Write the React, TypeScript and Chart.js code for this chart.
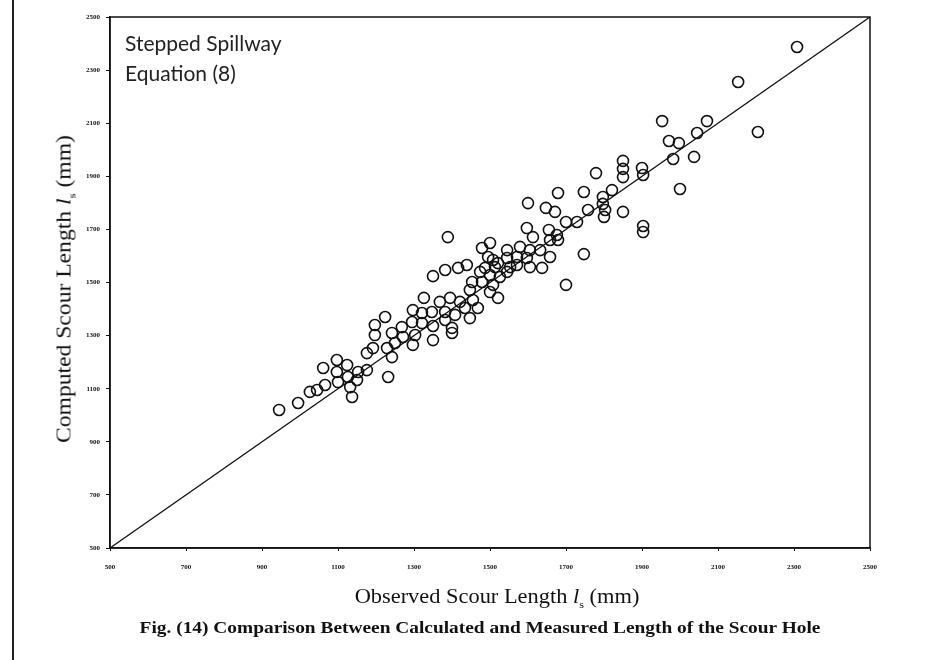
import React, { useEffect, useRef } from "react";
import { Chart, registerables } from "chart.js";

Chart.register(...registerables);

// Observed scour length l_s (mm)
const observed: number[] = [
  945, 995, 1026, 1045, 1061, 1066, 1097, 1097, 1100, 1124, 1126, 1132, 1137, 1153, 1150, 1176, 1176, 1192, 1197, 1197, 1224, 1232, 1229, 1242, 1250,
  1389, 1500, 1479, 1545, 1495, 1521, 1545, 1350, 1382, 1416, 1439, 1474, 1500, 1479, 1453, 1508, 1500, 1521, 1326, 1368, 1395, 1421, 1447, 1455, 1434, 1468, 1297, 1321, 1347, 1382, 1408, 1268, 1295, 1321, 1350, 1382, 1400, 1400, 1447, 1242, 1271, 1303, 1350, 1297,
  1779, 1679, 1747, 1600, 1647, 1671, 1758, 1700, 1729, 1597, 1655, 1676, 1613, 1658, 1679, 1579, 1605, 1632, 1508, 1545, 1571, 1597, 1658, 1747, 1487, 1513, 1553, 1571, 1605, 1637, 1526,
  1797, 1797, 1803, 1800, 1850, 1850, 1850, 1900, 1903, 1821, 1850, 1903, 1903, 1953, 1971, 1997, 2045, 1982, 2037, 2000, 2308, 2153, 2205, 2071, 1700,
];

// Computed scour length l_s (mm)
const computed: number[] = [
  1020, 1046, 1088, 1095, 1178, 1114, 1208, 1163, 1125, 1189, 1144, 1106, 1069, 1163, 1133, 1170, 1234, 1253, 1302, 1340, 1370, 1144, 1253, 1219, 1272,
  1671, 1649, 1630, 1622, 1596, 1573, 1540, 1524, 1547, 1555, 1566, 1540, 1528, 1502, 1502, 1491, 1464, 1442, 1442, 1427, 1442, 1427, 1472, 1434, 1404, 1404, 1396, 1385, 1389, 1389, 1378, 1332, 1351, 1347, 1336, 1359, 1329, 1310, 1366, 1310, 1295, 1302, 1283, 1265,
  1912, 1837, 1841, 1799, 1781, 1766, 1773, 1728, 1728, 1705, 1698, 1679, 1671, 1660, 1660, 1634, 1622, 1622, 1585, 1592, 1596, 1592, 1596, 1607, 1555, 1558, 1558, 1566, 1558, 1555, 1521,
  1822, 1796, 1773, 1747, 1958, 1928, 1897, 1931, 1905, 1848, 1766, 1713, 1690, 2108, 2033, 2025, 2063, 1965, 1973, 1852, 2387, 2255, 2067, 2108, 1491,
];

// Line of perfect agreement
const equalityLineX: number[] = [500, 2500];

const axisMin = 500;
const axisMax = 2500;
const axisStep = 200;

const boxPlugin = {
  id: "plotBox",
  afterDraw(chart: any) {
    const { ctx, chartArea } = chart;
    ctx.save();
    ctx.strokeStyle = "#111";
    ctx.lineWidth = 1.5;
    ctx.strokeRect(chartArea.left, chartArea.top, chartArea.right - chartArea.left, chartArea.bottom - chartArea.top);
    ctx.restore();
  },
};

export default function App() {
  const ref = useRef<HTMLCanvasElement | null>(null);

  useEffect(() => {
    if (!ref.current) return;
    const tickFont = { family: "'Liberation Serif', serif", size: 7, weight: "bold" as const };
    const chart = new Chart(ref.current, {
      type: "scatter",
      data: {
        datasets: [
          {
            type: "line",
            label: "1:1",
            data: equalityLineX.map((v) => ({ x: v, y: v })),
            borderColor: "#111",
            borderWidth: 1.3,
            pointRadius: 0,
            fill: false,
          },
          {
            label: "Data",
            data: observed.map((x, i) => ({ x, y: computed[i] })),
            pointStyle: "circle",
            pointRadius: 5.5,
            borderColor: "#111",
            borderWidth: 1.6,
            backgroundColor: "rgba(0,0,0,0)",
          },
        ],
      },
      options: {
        responsive: false,
        animation: false,
        layout: { padding: { left: 0, top: 17, right: 72, bottom: 0 } },
        plugins: { legend: { display: false }, tooltip: { enabled: false }, title: { display: false } },
        scales: {
          x: {
            type: "linear",
            min: axisMin,
            max: axisMax,
            afterFit: (s: any) => {
              s.height = 112;
            },
            ticks: {
              stepSize: axisStep,
              color: "#111",
              font: tickFont,
              padding: 12,
              maxRotation: 0,
              callback: (v: any) => String(v),
            },
            grid: { drawOnChartArea: false, drawTicks: true, tickLength: 3, color: "#111" },
            border: { display: true, color: "#111", width: 1.5 },
          },
          y: {
            type: "linear",
            min: axisMin,
            max: axisMax,
            afterFit: (s: any) => {
              s.width = 110;
            },
            ticks: {
              stepSize: axisStep,
              color: "#111",
              font: tickFont,
              padding: 6,
              callback: (v: any) => String(v),
            },
            grid: { drawOnChartArea: false, drawTicks: true, tickLength: 4, color: "#111" },
            border: { display: true, color: "#111", width: 1.5 },
          },
        },
      },
      plugins: [boxPlugin],
    });
    return () => chart.destroy();
  }, []);

  const serif = "'Liberation Serif', 'Times New Roman', serif";

  return (
    <div style={{ position: "absolute", left: 0, top: 0, width: 942, height: 660, background: "#fff", overflow: "hidden" }}>
      <canvas ref={ref} width={942} height={660} style={{ position: "absolute", left: 0, top: 0 }} />
      <div style={{ position: "absolute", left: 12, top: 0, width: 2, height: 660, background: "#222" }} />
      <div
        style={{
          position: "absolute",
          left: 125,
          top: 28,
          fontFamily: "Lato, 'Open Sans', sans-serif",
          fontSize: 21,
          lineHeight: "30px",
          color: "#222",
        }}
      >
        Stepped Spillway
        <br />
        Equation (8)
      </div>
      <div
        style={{
          position: "absolute",
          left: 65,
          top: 289,
          transform: "translate(-50%, -50%) rotate(-90deg) scaleX(1.18)",
          whiteSpace: "nowrap",
          fontFamily: serif,
          fontSize: 20,
          color: "#111",
        }}
      >
        Computed Scour Length <i>l</i>
        <sub style={{ fontSize: 11 }}>s</sub> (mm)
      </div>
      <div
        style={{
          position: "absolute",
          left: 497,
          top: 597,
          transform: "translate(-50%, -50%) scaleX(1.12)",
          whiteSpace: "nowrap",
          fontFamily: serif,
          fontSize: 20,
          color: "#111",
        }}
      >
        Observed Scour Length <i>l</i>
        <sub style={{ fontSize: 11 }}>s</sub> (mm)
      </div>
      <div
        style={{
          position: "absolute",
          left: 480,
          top: 628,
          transform: "translate(-50%, -50%) scaleX(1.14)",
          whiteSpace: "nowrap",
          fontFamily: serif,
          fontSize: 17,
          fontWeight: "bold",
          color: "#111",
        }}
      >
        Fig. (14) Comparison Between Calculated and Measured Length of the Scour Hole
      </div>
    </div>
  );
}
